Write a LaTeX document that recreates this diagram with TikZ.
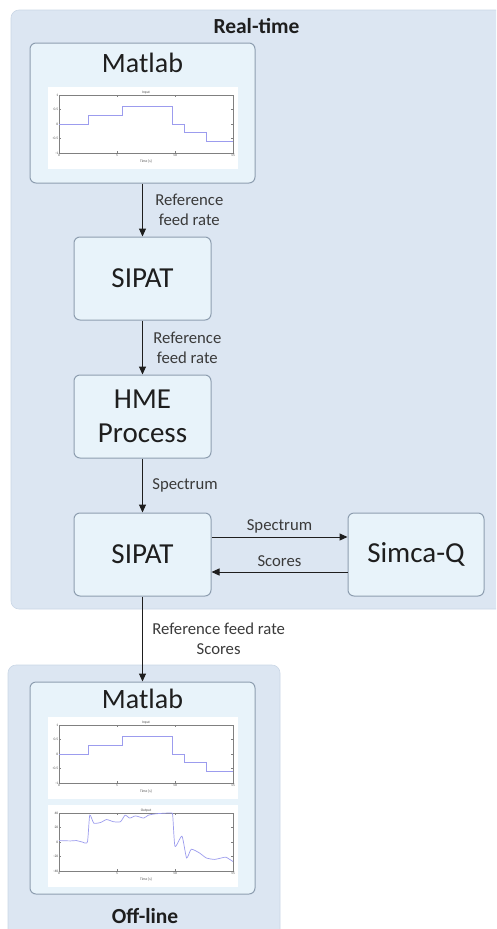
\documentclass[tikz,border=0pt]{standalone}
\usepackage{fontspec}
\setmainfont{Carlito}
\usetikzlibrary{arrows.meta}

\definecolor{panelfill}{HTML}{DCE6F2}
\definecolor{panelline}{HTML}{CAD7E6}
\definecolor{boxfill}{HTML}{E8F3FA}
\definecolor{boxline}{HTML}{8E9EB0}
\definecolor{ink}{HTML}{1E1E1E}
\definecolor{labelink}{HTML}{3A3A3A}
\definecolor{plotline}{HTML}{9C9CEE}

\tikzset{
  axis/.style={draw=black!50, line width=0.3pt},
  curve/.style={draw=plotline, line width=0.7pt},
  ticklabel/.style={font=\fontsize{3.6}{4}\selectfont, text=black!70, inner sep=0.6pt},
  inputplot/.pic={
    \fill[white] (0,0) rectangle (190,82);
    \begin{scope}[shift={(11,37)}, x=11.6pt, y=29pt]
      \draw[axis] (0,-1) rectangle (15,1);
      \foreach \t in {0,5,10,15} {
        \draw[axis] (\t,-1) -- ++(0,0.07) (\t,1) -- ++(0,-0.07);
        \node[ticklabel, below] at (\t,-1) {\t};
      }
      \foreach \v in {-1,-0.5,0,0.5,1} {
        \draw[axis] (0,\v) -- ++(0.17,0) (15,\v) -- ++(-0.17,0);
        \node[ticklabel, left] at (0,\v) {\v};
      }
      \node[ticklabel, above] at (7.5,1) {Input};
      \node[ticklabel, below] at (7.5,-1.2) {Time [s]};
      \draw[curve] (0,0) -| (2.5,0.3) -| (5.5,0.6) -| (9.8,0) -| (10.8,-0.3) -| (12.7,-0.6) -- (15,-0.6);
    \end{scope}
  },
  outputplot/.pic={
    \fill[white] (0,0) rectangle (190,82);
    \begin{scope}[shift={(11,37)}, x=11.6pt, y=0.725pt]
      \draw[axis] (0,-40) rectangle (15,40);
      \foreach \t in {0,5,10,15} {
        \draw[axis] (\t,-40) -- ++(0,2.8) (\t,40) -- ++(0,-2.8);
        \node[ticklabel, below] at (\t,-40) {\t};
      }
      \foreach \v in {-40,-20,0,20,40} {
        \draw[axis] (0,\v) -- ++(0.17,0) (15,\v) -- ++(-0.17,0);
        \node[ticklabel, left] at (0,\v) {\v};
      }
      \node[ticklabel, above] at (7.5,40) {Output};
      \node[ticklabel, below] at (7.5,-48) {Time [s]};
      \draw[curve] plot[smooth, tension=0.35] coordinates {
        (0,2) (1,1.5) (1.5,2) (2,0) (2.45,0) (2.65,37) (3,26) (3.6,27)
        (4.1,31) (4.7,28) (5.3,28) (5.7,37) (6.1,33) (6.6,36) (7.3,33)
        (7.7,37) (8.4,39) (9.6,40) (9.8,37) (10,-6) (10.6,8) (11,-22)
        (11.4,-10) (12.1,-15) (12.7,-22) (13.4,-24) (14,-22) (14.4,-21) (15,-27)};
    \end{scope}
  }
}

\begin{document}
\begin{tikzpicture}[x=1pt, y=-1pt,
  panel/.style={fill=panelfill, draw=panelline, line width=0.6pt, rounded corners=8pt},
  paneltitle/.style={font=\fontsize{21.5}{24}\selectfont\bfseries, text=ink},
  box/.style={draw=boxline, fill=boxfill, line width=1pt, rounded corners=6pt},
  title/.style={font=\fontsize{28}{34}\selectfont, text=ink},
  stage/.style={box, minimum width=137pt, minimum height=83pt, align=center,
    font=\fontsize{29}{34}\selectfont, text=ink},
  flow/.style={font=\fontsize{16.7}{20}\selectfont, text=labelink, align=center},
  link/.style={-{Triangle[length=8pt,width=7pt]}, line width=1pt, draw=ink}]

\useasboundingbox (0,0) rectangle (496,929);
\clip (0,0) rectangle (496,929);

% panels
\draw[panel] (11,10) rectangle (510,609);
\draw[panel] (8,665) rectangle (280,945);
\node[paneltitle] (realtime) at (256.5,26) {Real-time};
\node[paneltitle] (offline) at (145,916) {Off-line};

% real-time chain
\node[box, minimum width=225pt, minimum height=140pt] (matlabA) at (142.5,113) {};
\node[title] (matlabAtitle) at (142.5,63) {Matlab};
\pic at (48,87) {inputplot};
\node[stage] (sipatA) at (142.5,278.5) {SIPAT};
\node[stage] (hme) at (142.5,416.5) {HME\\Process};
\node[stage] (sipatB) at (142.5,554.5) {SIPAT};
\node[stage, minimum width=136pt] (simca) at (416,554.5) {Simca-Q};

% off-line
\node[box, minimum width=225pt, minimum height=212pt] (matlabB) at (142.5,788) {};
\node[title] (matlabBtitle) at (142.5,699) {Matlab};
\pic at (48,717) {inputplot};
\pic at (48,805) {outputplot};

\draw[link] (matlabA) -- (sipatA) node[flow, midway, right, xshift=9pt] {Reference\\feed rate};
\draw[link] (sipatA) -- (hme) node[flow, midway, right, xshift=7pt] {Reference\\feed rate};
\draw[link] (hme) -- (sipatB) node[flow, midway, right, xshift=6pt] {Spectrum};
\draw[link] ([yshift=17.5pt]sipatB.east) -- ([yshift=17.5pt]simca.west) node[flow, midway, above] {Spectrum};
\draw[link] ([yshift=-17.5pt]simca.west) -- ([yshift=-17.5pt]sipatB.east) node[flow, midway, above, yshift=2pt] {Scores};
\draw[link] (sipatB) -- (matlabB) node[flow, midway, right, xshift=6pt] {Reference feed rate\\Scores};
\end{tikzpicture}
\end{document}
